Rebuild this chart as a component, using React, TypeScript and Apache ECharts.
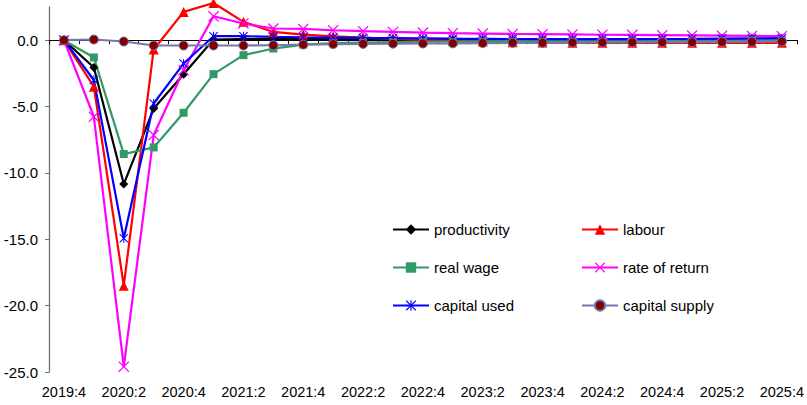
import React, { useEffect, useRef } from "react";
import * as echarts from "echarts";

const quarters = [
  "2019:4", "2020:1", "2020:2", "2020:3", "2020:4", "2021:1", "2021:2", "2021:3", "2021:4",
  "2022:1", "2022:2", "2022:3", "2022:4", "2023:1", "2023:2", "2023:3", "2023:4",
  "2024:1", "2024:2", "2024:3", "2024:4", "2025:1", "2025:2", "2025:3", "2025:4",
];

const productivity = [0, -2.06, -10.84, -5.15, -2.56, 0.05, 0.08, 0.1, 0.1, 0.08, 0.06, 0.05, 0.04, 0.03, 0.02, 0.02, 0.01, 0.01, 0.0, 0.0, 0.0, 0.0, 0.0, 0.0, 0.0];
const labour = [0, -3.5, -18.5, -0.7, 2.13, 2.8, 1.38, 0.62, 0.42, 0.28, 0.2, 0.1, 0.02, -0.05, -0.1, -0.15, -0.18, -0.2, -0.2, -0.2, -0.2, -0.2, -0.2, -0.2, -0.2];
const realWage = [0, -1.3, -8.58, -8.08, -5.47, -2.56, -1.13, -0.63, -0.33, -0.22, -0.18, -0.15, -0.12, -0.1, -0.08, -0.07, -0.06, -0.05, -0.04, -0.03, -0.02, -0.02, -0.01, 0.0, 0.0];
const rateOfReturn = [0, -5.77, -24.6, -7.15, -2.26, 1.8, 1.26, 0.88, 0.85, 0.75, 0.68, 0.62, 0.57, 0.53, 0.5, 0.47, 0.45, 0.43, 0.41, 0.4, 0.38, 0.36, 0.34, 0.32, 0.3];
const capitalUsed = [0, -3.0, -14.93, -4.77, -1.76, 0.3, 0.3, 0.25, 0.22, 0.2, 0.17, 0.15, 0.13, 0.11, 0.1, 0.09, 0.08, 0.08, 0.08, 0.08, 0.09, 0.1, 0.12, 0.14, 0.15];
const capitalSupply = [0, 0.05, -0.1, -0.4, -0.4, -0.4, -0.4, -0.38, -0.33, -0.3, -0.28, -0.26, -0.25, -0.24, -0.22, -0.2, -0.2, -0.18, -0.17, -0.16, -0.15, -0.15, -0.13, -0.12, -0.1];

const yTicks = [-25, -20, -15, -10, -5, 0];

const FONT = "'Liberation Sans', Arial, sans-serif";

const X_PATH =
  "path://M0,0.8 L0.8,0 L5,4.2 L9.2,0 L10,0.8 L5.8,5 L10,9.2 L9.2,10 L5,5.8 L0.8,10 L0,9.2 L4.2,5 Z";
const STAR_PATH =
  "path://M0,0.8 L0.8,0 L5,4.2 L9.2,0 L10,0.8 L5.8,5 L10,9.2 L9.2,10 L5,5.8 L0.8,10 L0,9.2 L4.2,5 Z M4.45,0 L5.55,0 L5.55,10 L4.45,10 Z";

export default function App() {
  const ref = useRef<HTMLDivElement>(null);
  useEffect(() => {
    document.body.style.margin = "0";
    if (!ref.current) return;
    const chart = echarts.init(ref.current, undefined, { renderer: "svg" });
    const mk = (name: string, data: number[], color: string, symbol: string, size: number) => ({
      name,
      type: "line",
      data,
      xAxisIndex: 0,
      yAxisIndex: 0,
      symbol,
      symbolSize: size,
      showAllSymbol: true,
      clip: false,
      lineStyle: { color, width: 2.2 },
      itemStyle: { color },
      emphasis: { disabled: true },
    });
    const legendBase = {
      orient: "vertical",
      top: 217,
      itemWidth: 36,
      itemHeight: 13,
      itemGap: 23,
      textStyle: { fontFamily: FONT, fontSize: 15, color: "#000" },
    };
    chart.setOption({
      animation: false,
      grid: { left: 49, right: 9, top: 7, bottom: 33, containLabel: false },
      legend: [
        { ...legendBase, left: 387, data: ["productivity", "real wage", "capital used"] },
        { ...legendBase, left: 576, data: ["labour", "rate of return", "capital supply"] },
      ],
      xAxis: [
        {
          type: "category",
          data: quarters,
          position: "bottom",
          boundaryGap: true,
          axisLine: { show: false, onZero: false },
          axisTick: { show: false },
          axisLabel: { interval: 1, fontFamily: FONT, fontSize: 14.5, color: "#000", margin: 12 },
          splitLine: { show: false },
        },
        {
          type: "category",
          data: quarters,
          position: "top",
          boundaryGap: true,
          axisLine: { show: true, onZero: true, lineStyle: { color: "#000", width: 1 } },
          axisTick: { show: true, inside: true, length: 4, interval: 0, lineStyle: { color: "#000" } },
          axisLabel: { show: false },
          splitLine: { show: false },
        },
      ],
      yAxis: {
        type: "value",
        min: -25,
        max: 2.5,
        interval: 5,
        axisLine: { show: true, onZero: false, lineStyle: { color: "#6e6e6e", width: 1.3 } },
        axisTick: { show: true, length: 4, customValues: yTicks, lineStyle: { color: "#6e6e6e" } },
        axisLabel: {
          customValues: yTicks,
          formatter: (v: number) => v.toFixed(1),
          fontFamily: FONT,
          fontSize: 15,
          color: "#000",
          margin: 11,
        },
        splitLine: { show: false },
      },
      series: [
        mk("productivity", productivity, "#000000", "diamond", 9),
        mk("labour", labour, "#ff0000", "triangle", 10),
        mk("real wage", realWage, "#339966", "rect", 8),
        mk("rate of return", rateOfReturn, "#ff00ff", X_PATH, 11),
        mk("capital used", capitalUsed, "#0000ff", STAR_PATH, 9),
        {
          ...mk("capital supply", capitalSupply, "#7777aa", "circle", 9),
          itemStyle: { color: "#800000", borderColor: "#7777aa", borderWidth: 1 },
        },
      ],
    });
    return () => chart.dispose();
  }, []);
  return <div ref={ref} style={{ width: 807, height: 405 }} />;
}
